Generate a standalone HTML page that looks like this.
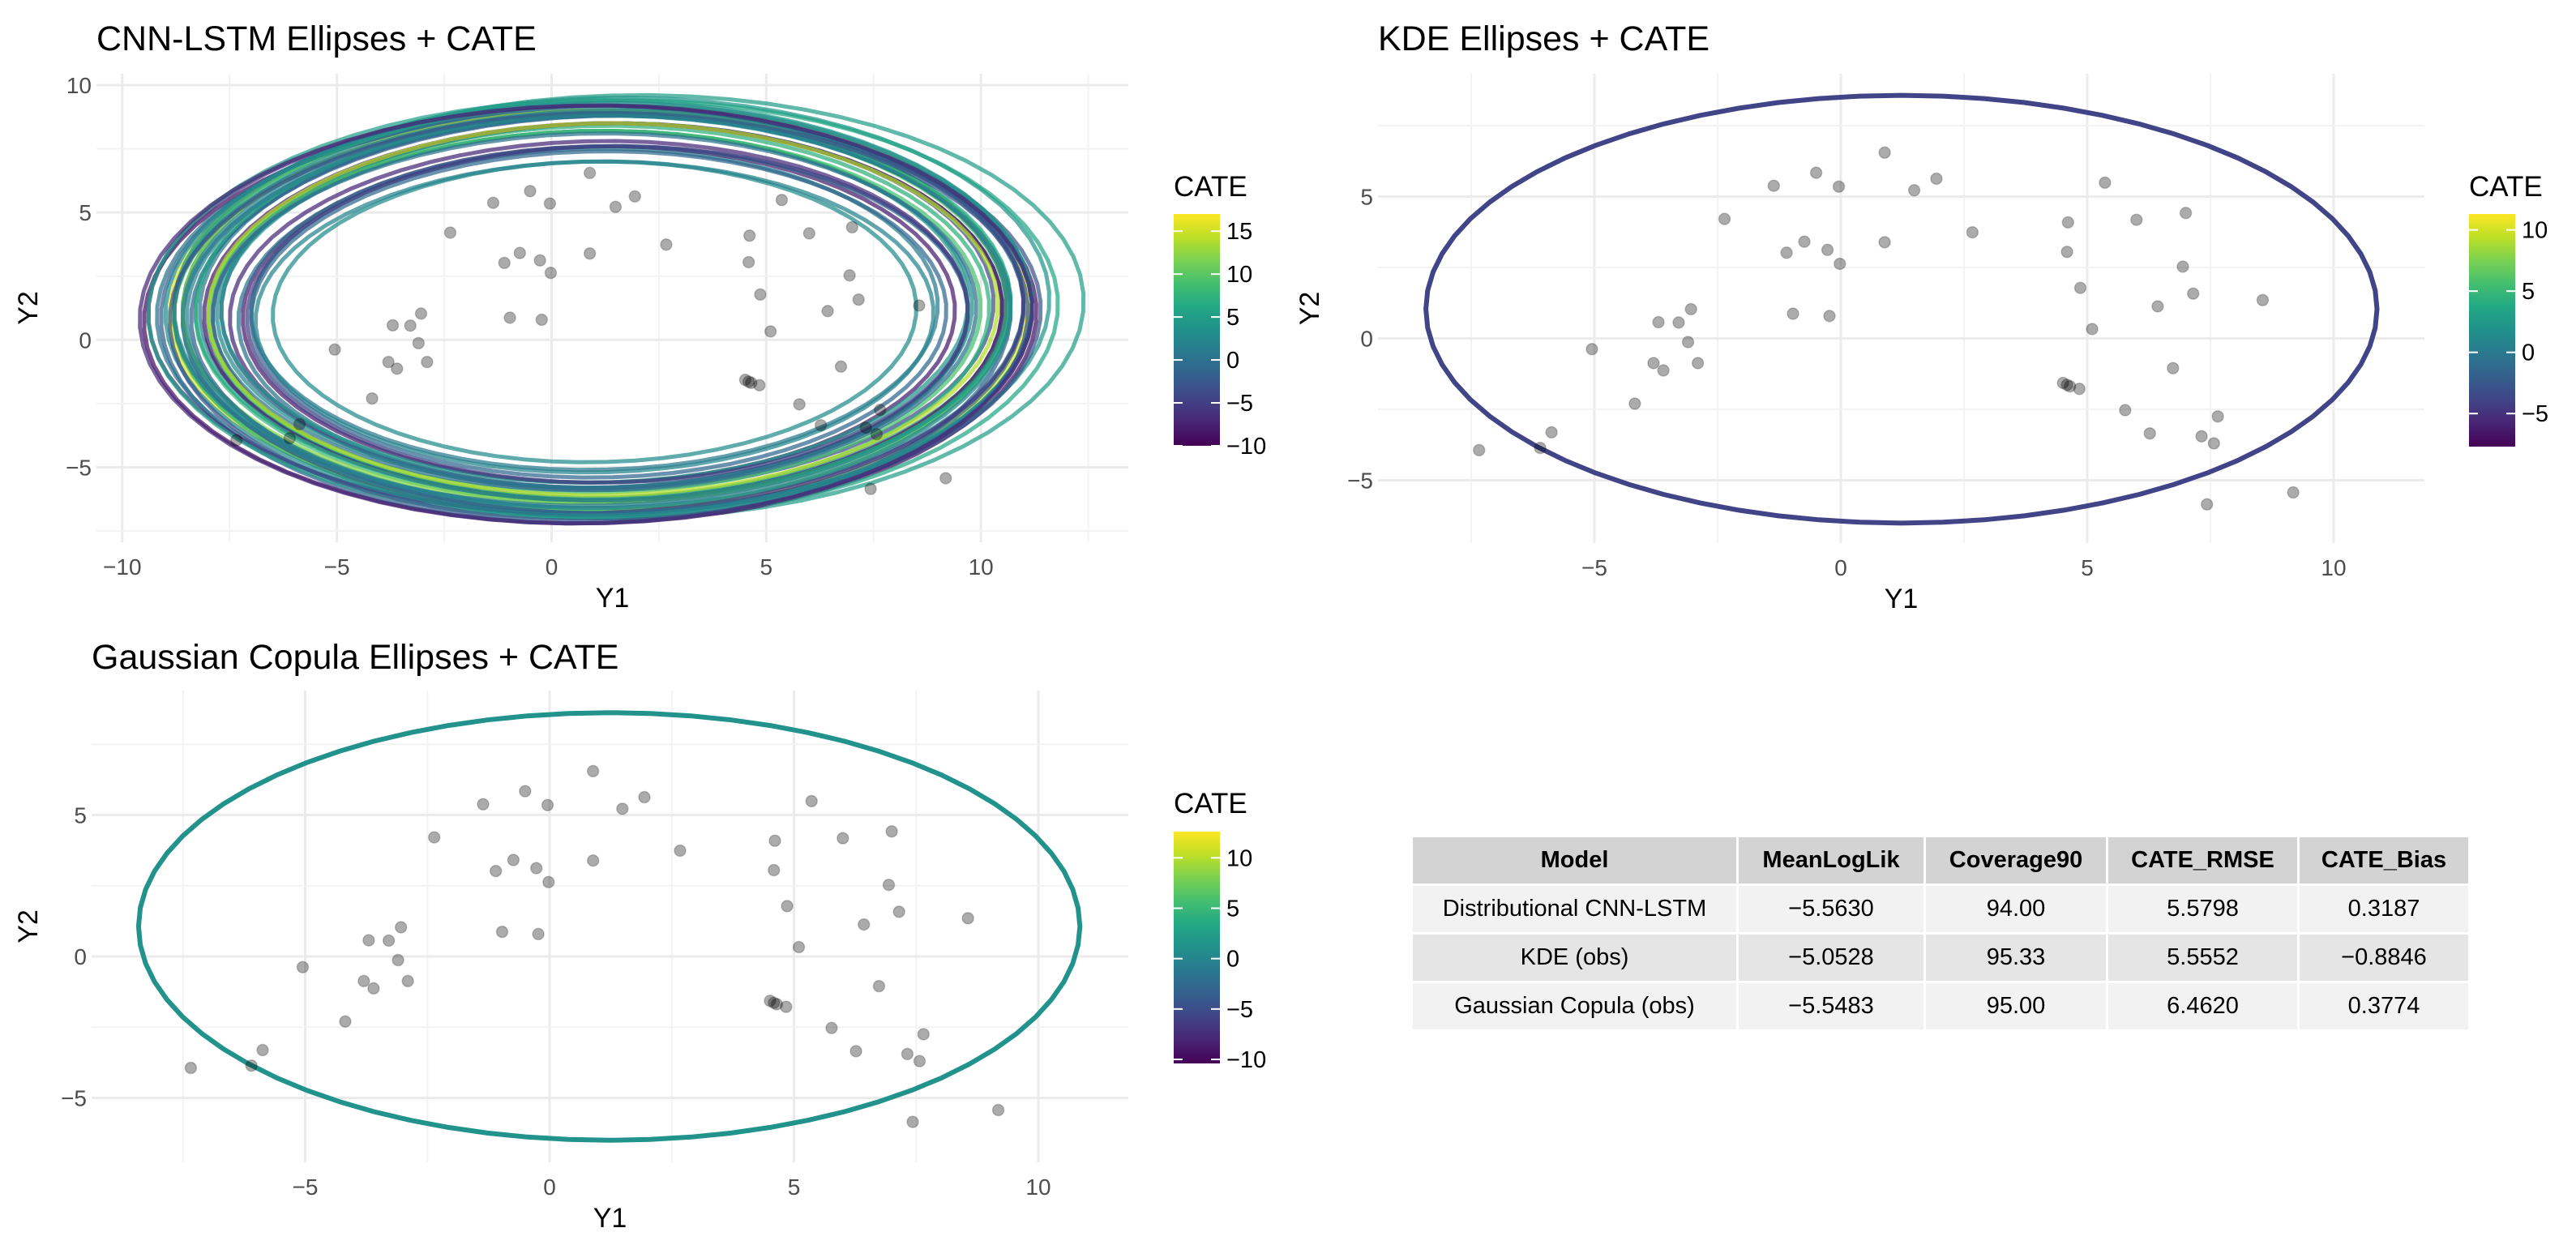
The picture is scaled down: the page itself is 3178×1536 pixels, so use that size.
<!DOCTYPE html>
<html><head><meta charset="utf-8"><style>
html,body{margin:0;padding:0;background:#fff;}
body{width:3178px;height:1536px;overflow:hidden;position:relative;font-family:"Liberation Sans",sans-serif;}
#chart{position:absolute;left:0;top:0;}
table{position:absolute;left:1740px;top:1030px;border-collapse:collapse;table-layout:fixed;width:1305px;font-family:"Liberation Sans",sans-serif;font-size:29px;color:#000;}
td,th{border:3px solid #fff;text-align:center;padding:0;height:57px;}
th{background:#d3d3d3;font-weight:bold;}
tr.r1 td,tr.r3 td{background:#f2f2f2;}
tr.r2 td{background:#e5e5e5;}
</style></head><body>
<svg id="chart" width="3178" height="1536" xmlns="http://www.w3.org/2000/svg"></svg>
<table>
<colgroup><col style="width:402px"><col style="width:231px"><col style="width:225px"><col style="width:236px"><col style="width:211px"></colgroup>
<tr><th>Model</th><th>MeanLogLik</th><th>Coverage90</th><th>CATE_RMSE</th><th>CATE_Bias</th></tr>
<tr class="r1"><td>Distributional CNN-LSTM</td><td>−5.5630</td><td>94.00</td><td>5.5798</td><td>0.3187</td></tr>
<tr class="r2"><td>KDE (obs)</td><td>−5.0528</td><td>95.33</td><td>5.5552</td><td>−0.8846</td></tr>
<tr class="r3"><td>Gaussian Copula (obs)</td><td>−5.5483</td><td>95.00</td><td>6.4620</td><td>0.3774</td></tr>
</table>
<script>
// observed points
const ptX = [0.89,-0.5,-1.36,-0.04,1.49,1.94,5.36,7.0,-2.36,4.61,6.0,2.67,-0.74,0.89,-1.1,-0.27,-0.02,4.59,6.94,7.15,4.86,8.56,6.43,-0.97,-0.23,-3.04,-3.7,-3.29,-3.1,5.1,-5.05,-3.8,-3.6,-2.9,6.74,4.51,4.59,4.65,4.84,-4.18,5.77,7.65,-5.87,6.27,7.32,7.57,-7.34,-6.1,9.18,7.43];
const ptY = [6.55,5.84,5.38,5.35,5.22,5.63,5.49,4.42,4.21,4.09,4.18,3.74,3.41,3.39,3.02,3.12,2.63,3.05,2.53,1.58,1.78,1.35,1.13,0.87,0.79,1.03,0.57,0.56,-0.13,0.33,-0.38,-0.87,-1.13,-0.87,-1.05,-1.57,-1.64,-1.69,-1.78,-2.3,-2.53,-2.75,-3.31,-3.35,-3.45,-3.7,-3.94,-3.86,-5.43,-5.85];
// CNN-LSTM ellipses
const ellCx = [1.8,1.0,1.1,0.9,1.2,1.3,1.0,0.8,1.4,1.1,1.2,0.9,1.0,1.3,1.5,1.1,0.9,1.2,1.0,1.4,1.1,0.8,1.2,1.0,1.3,1.1,0.9,1.2,1.0,1.4,1.1,1.0,1.3,0.9,1.2,1.1,1.0,1.2,0.8,1.1];
const ellCy = [1.3,1.1,1.2,0.9,1.3,1.1,1.2,1.0,1.4,1.0,1.2,1.1,0.9,1.3,1.2,1.0,1.1,1.3,1.2,1.0,1.1,1.2,0.9,1.3,1.1,1.0,1.2,1.1,1.3,1.0,1.2,1.1,1.0,1.2,1.3,0.9,1.1,1.2,1.0,1.1];
const ellA = [10.6,7.5,10.0,10.4,9.8,9.2,8.0,9.9,10.2,8.6,9.5,10.1,7.9,9.0,10.3,8.3,9.7,9.4,8.8,10.0,9.1,10.2,8.5,9.6,9.9,8.1,10.3,9.3,8.7,9.8,10.1,9.0,8.4,9.7,9.5,10.0,8.9,9.2,10.4,9.6];
const ellB = [8.3,5.9,8.0,8.1,7.9,7.4,6.3,8.2,8.1,6.8,7.6,8.0,6.1,7.2,8.2,6.6,7.8,7.5,7.0,7.9,7.3,8.0,6.7,7.7,7.9,6.4,8.2,7.4,6.9,7.8,8.1,7.1,6.6,7.7,7.6,8.0,7.0,7.3,8.2,7.7];
const ellCate = [5,3,16,-9,2,-5,1,-2,4,-7,8,0,2,-4,6,-8,10,1,3,-3,7,-6,0,12,2,-1,5,-8,4,-2,3,9,-5,1,6,-3,0,14,-7,2];
// single ellipses
const kdeEll = [1.23,1.03,9.65,7.54,-3.9];
const copEll = [1.22,1.06,9.63,7.56,1.2];
// legend ranges & ticks
const leg1Range=[-10,17], leg1Ticks=[-10,-5,0,5,10,15];
const leg2Range=[-7.7,11.3], leg2Ticks=[-5,0,5,10];
const leg3Range=[-10.4,12.6], leg3Ticks=[-10,-5,0,5,10];
const xTicks1=[-10,-5,0,5,10], yTicks1=[-5,0,5,10];
const xTicks2=[-5,0,5,10], yTicks2=[-5,0,5];

const NS="http://www.w3.org/2000/svg";
const svg=document.getElementById('chart');
function mk(tag,attrs,parent){const e=document.createElementNS(NS,tag);for(const k in attrs)e.setAttribute(k,attrs[k]);(parent||svg).appendChild(e);return e;}
const VS=[[0,'#440154'],[0.1,'#482475'],[0.2,'#414487'],[0.3,'#355f8d'],[0.4,'#2a788e'],[0.5,'#21918c'],[0.6,'#22a884'],[0.7,'#44bf70'],[0.8,'#7ad151'],[0.9,'#bddf26'],[1,'#fde725']];
function hx(h){return [1,3,5].map(i=>parseInt(h.substr(i,2),16));}
function viridis(t){t=Math.max(0,Math.min(1,t));for(let i=1;i<VS.length;i++){if(t<=VS[i][0]){const f=(t-VS[i-1][0])/(VS[i][0]-VS[i-1][0]);const a=hx(VS[i-1][1]),b=hx(VS[i][1]);return 'rgb('+a.map((v,j)=>Math.round(v+(b[j]-v)*f)).join(',')+')';}}return VS[10][1];}
let gid=0;
function panel(cfg){
  const {x0,x1,y0,y1,ox,sx,oy,sy}=cfg;
  const X=v=>ox+sx*v, Y=v=>oy-sy*v;
  const g=mk('g',{});
  
  
  for(let v=-12.5;v<=15;v+=2.5){const px=X(v);if(px<x0||px>x1)continue;const major=Math.abs(v%5)<1e-6;
    const l=mk('line',{x1:px,x2:px,y1:y0,y2:y1,stroke:major?'#ebebeb':'#f3f3f3','stroke-width':major?3:2},g);
    }
  for(let v=-10;v<=12.5;v+=2.5){const py=Y(v);if(py<y0||py>y1)continue;const major=Math.abs(v%5)<1e-6;
    const l=mk('line',{x1:x0,x2:x1,y1:py,y2:py,stroke:major?'#ebebeb':'#f3f3f3','stroke-width':major?3:2},g);
    }
  cfg.xt.forEach(v=>{const t=mk('text',{x:X(v),y:y1+40,'text-anchor':'middle','font-size':28,fill:'#4d4d4d'},g);t.textContent=v<0?'−'+(-v):v;
    });
  cfg.yt.forEach(v=>{const t=mk('text',{x:x0-6,y:Y(v)+10,'text-anchor':'end','font-size':28,fill:'#4d4d4d'},g);t.textContent=v<0?'−'+(-v):v;
    });
  cfg.ells.forEach(e=>{const [cx,cy,a,b,c]=e;const pts=[];const ang=cfg.tilt;
    for(let i=0;i<72;i++){const th=i/72*2*Math.PI;const ex=a*Math.cos(th),ey=b*Math.sin(th);
      pts.push(X(cx+ex*Math.cos(ang)-ey*Math.sin(ang)).toFixed(1)+','+Y(cy+ex*Math.sin(ang)+ey*Math.cos(ang)).toFixed(1));}
    const p=mk('polygon',{points:pts.join(' '),fill:'none',stroke:viridis((c-cfg.lr[0])/(cfg.lr[1]-cfg.lr[0])),'stroke-width':cfg.lw,'stroke-opacity':cfg.op,'stroke-linejoin':'round'},g);
    });
  ptX.forEach((v,i)=>{const c=mk('circle',{cx:X(v),cy:Y(ptY[i]),r:7,fill:'rgba(0,0,0,0.33)',stroke:'rgba(0,0,0,0.2)','stroke-width':1.5},g);
    });
  const tt=mk('text',{x:cfg.tx,y:cfg.ty,'font-size':43,fill:'#000'},g);tt.textContent=cfg.title;
  
  const xl=mk('text',{x:(x0+x1)/2,y:y1+80,'text-anchor':'middle','font-size':34,fill:'#000'},g);xl.textContent='Y1';
  
  const yl=mk('text',{x:cfg.ylx,y:(y0+y1)/2,'text-anchor':'middle','font-size':34,fill:'#000',transform:'rotate(-90 '+cfg.ylx+' '+((y0+y1)/2)+')'},g);yl.textContent='Y2';
  
  const L=cfg.leg;const id='grad'+(gid++);
  const defs=mk('defs',{},g);const lg=mk('linearGradient',{id:id,x1:0,y1:1,x2:0,y2:0},defs);
  VS.forEach(s=>mk('stop',{offset:s[0],'stop-color':s[1]},lg));
  const lt=mk('text',{x:L.x,y:L.ty,'font-size':35,fill:'#000'},g);lt.textContent='CATE';
  
  const r=mk('rect',{x:L.x,y:L.top,width:L.w,height:L.bot-L.top,fill:'url(#'+id+')'},g);
  
  const LY=v=>L.bot-(v-cfg.lr[0])/(cfg.lr[1]-cfg.lr[0])*(L.bot-L.top);
  cfg.lt.forEach(v=>{const py=LY(v);
    mk('line',{x1:L.x,x2:L.x+11,y1:py,y2:py,stroke:'#fff','stroke-width':2},g);
    mk('line',{x1:L.x+L.w-11,x2:L.x+L.w,y1:py,y2:py,stroke:'#fff','stroke-width':2},g);
    const t=mk('text',{x:L.x+L.w+8,y:py+10,'font-size':29,fill:'#000'},g);t.textContent=v<0?'−'+(-v):v;
    });
}
const cnn=ellCx.map((v,i)=>[v,ellCy[i],ellA[i],ellB[i],ellCate[i]]);
panel({name:'cnn-lstm-panel',title:'CNN-LSTM Ellipses + CATE',x0:119,x1:1392,y0:91,y1:669,ox:680.5,sx:52.97,oy:419.3,sy:31.43,xt:xTicks1,yt:yTicks1,
  ells:cnn,lr:leg1Range,lt:leg1Ticks,lw:5,op:0.72,tilt:0.05,tx:119,ty:62,ylx:46,leg:{x:1448,w:57,top:264,bot:550,ty:242}});
panel({name:'kde-panel',title:'KDE Ellipses + CATE',x0:1700,x1:2991,y0:91,y1:670,ox:2271,sx:60.8,oy:417.5,sy:35,xt:xTicks2,yt:yTicks2,
  ells:[kdeEll],lr:leg2Range,lt:leg2Ticks,lw:6,op:1,tilt:0,tx:1700,ty:62,ylx:1627,leg:{x:3046,w:57,top:264,bot:551,ty:242}});
panel({name:'gaussian-copula-panel',title:'Gaussian Copula Ellipses + CATE',x0:113,x1:1392,y0:852,y1:1434,ox:678,sx:60.3,oy:1180,sy:34.9,xt:xTicks2,yt:yTicks2,
  ells:[copEll],lr:leg3Range,lt:leg3Ticks,lw:6,op:1,tilt:0,tx:113,ty:825,ylx:46,leg:{x:1448,w:57,top:1026,bot:1312,ty:1003}});
</script>
</body></html>
